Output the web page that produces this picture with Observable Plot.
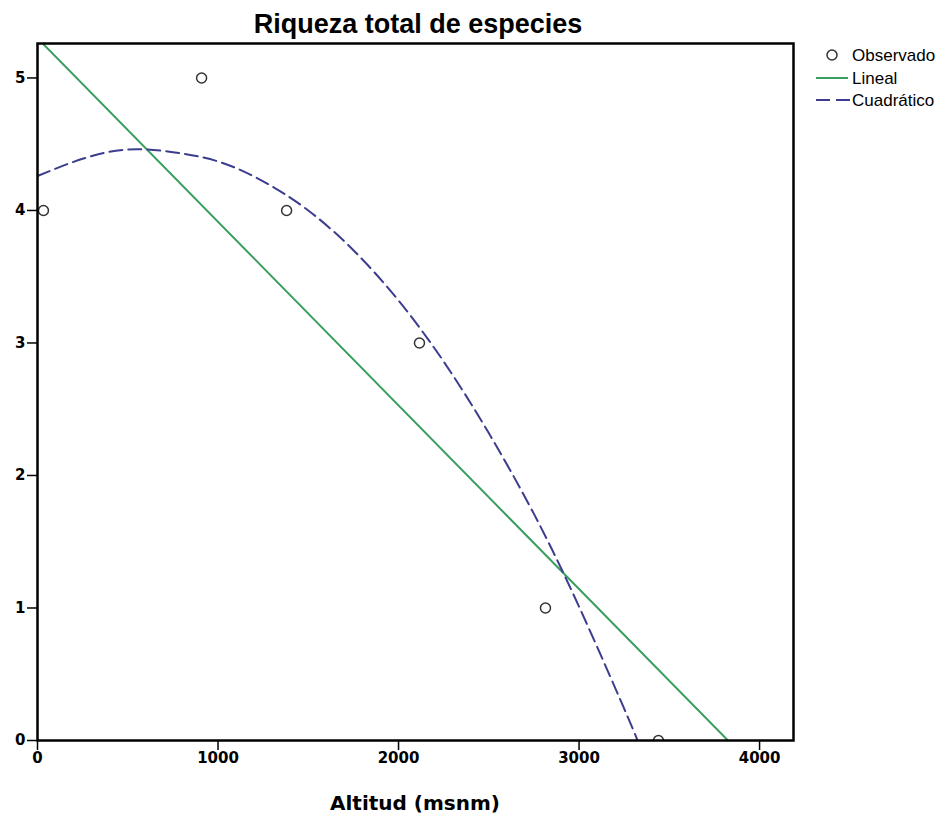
<!DOCTYPE html>
<html><head><meta charset="utf-8">
<script src="https://cdn.jsdelivr.net/npm/d3@7"></script>
<script src="https://cdn.jsdelivr.net/npm/@observablehq/plot@0.6"></script>
<style>body{margin:0;background:#fff}</style>
</head><body><div id="chart"></div>
<script>
// Observed points (altitude in msnm, species richness)
const altitud = [33, 909, 1380, 2116, 2814, 3440];
const riqueza = [4, 5, 4, 3, 1, 0];
// Linear fit line
const linealX = [0, 3825];
const linealY = [5.30, 0];
// Quadratic fit curve
const cuadX = [0, 250, 500, 750, 1000, 1250, 1500, 1750, 2000, 2250, 2500, 2750, 3000, 3250, 3324];
const cuadY = [4.26, 4.39, 4.46, 4.44, 4.37, 4.22, 4.00, 3.70, 3.32, 2.86, 2.32, 1.71, 1.01, 0.24, 0];
const xTicks = [0, 1000, 2000, 3000, 4000];
const yTicks = [0, 1, 2, 3, 4, 5];
const titulo = "Riqueza total de especies";
const xLabel = "Altitud (msnm)";
const leyenda = ["Observado", "Lineal", "Cuadrático"];

const obs = altitud.map((x, i) => ({x, y: riqueza[i]}));
const lin = linealX.map((x, i) => ({x, y: linealY[i]}));
const quad = cuadX.map((x, i) => ({x, y: cuadY[i]}));

const green = "#3a9f5e", navy = "#3d3d8f";

const plot = Plot.plot({
  width: 948, height: 817,
  marginLeft: 37, marginRight: 155, marginTop: 43, marginBottom: 77,
  x: {domain: [0, 4188]},
  y: {domain: [0, 5.26]},
  style: {fontFamily: "DejaVu Sans", background: "#fff", color: "#000"},
  marks: [
    Plot.line(lin, {x: "x", y: "y", stroke: green, strokeWidth: 2, clip: true}),
    Plot.line(quad, {x: "x", y: "y", stroke: navy, strokeWidth: 2, strokeDasharray: "13,6", curve: "natural", clip: true}),
    Plot.dot(obs, {x: "x", y: "y", r: 5, stroke: "#333", strokeWidth: 1.5, fill: "white", clip: true}),
    Plot.frame({stroke: "#000", strokeWidth: 2.5}),
    Plot.axisX({ticks: xTicks, tickSize: 10, tickPadding: 2, fontSize: 15, fontWeight: "bold", label: null, tickFormat: d => String(d)}),
    Plot.axisY({ticks: yTicks, tickSize: 10, tickPadding: 2, fontSize: 15, fontWeight: "bold", label: null, tickFormat: d => String(d)})
  ]
});
document.getElementById("chart").appendChild(plot);

const svg = d3.select(plot);
svg.selectAll("[aria-label='x-axis tick'] path, [aria-label='y-axis tick'] path").attr("stroke-width", 1.5);
svg.append("text").attr("x", 418).attr("y", 33).attr("text-anchor", "middle")
  .attr("font-family", "Liberation Sans, Arial").attr("font-weight", "bold").attr("font-size", 27)
  .attr("fill", "#000").text(titulo);
svg.append("text").attr("x", 415).attr("y", 810).attr("text-anchor", "middle")
  .attr("font-family", "DejaVu Sans").attr("font-weight", "bold").attr("font-size", 20)
  .attr("fill", "#000").text(xLabel);

const lg = svg.append("g").attr("font-family", "Liberation Sans, Arial").attr("font-size", 17)
  .attr("fill", "#000").attr("text-anchor", "start");
lg.append("circle").attr("cx", 832).attr("cy", 55).attr("r", 5).attr("fill", "white").attr("stroke", "#333").attr("stroke-width", 1.5);
lg.append("line").attr("x1", 816).attr("x2", 848).attr("y1", 78).attr("y2", 78).attr("stroke", green).attr("stroke-width", 2);
lg.append("line").attr("x1", 816).attr("x2", 850).attr("y1", 100).attr("y2", 100).attr("stroke", navy).attr("stroke-width", 2).attr("stroke-dasharray", "14,6");
const ys = [55, 78, 100];
leyenda.forEach((t, i) => {
  lg.append("text").attr("x", 852).attr("y", ys[i]).attr("dy", "0.35em").attr("text-anchor", "start").text(t);
});
</script>
</body></html>
